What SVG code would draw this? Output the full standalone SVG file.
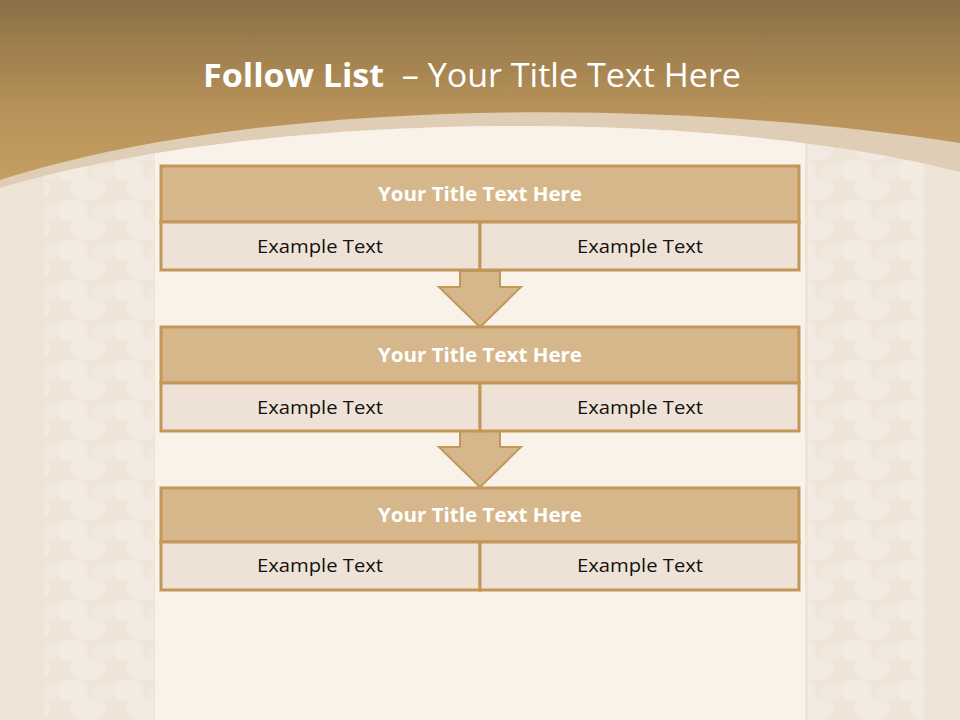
<svg xmlns="http://www.w3.org/2000/svg" width="960" height="720" viewBox="0 0 960 720">
  <defs>
    <linearGradient id="hdr" x1="0" y1="0" x2="0" y2="1" gradientUnits="objectBoundingBox">
      <stop offset="0" stop-color="#8A7047"/>
      <stop offset="0.55" stop-color="#B89259"/>
      <stop offset="1" stop-color="#C9A166"/>
    </linearGradient>
    <pattern id="lace" x="0" y="0" width="56" height="40" patternUnits="userSpaceOnUse">
      <ellipse cx="16" cy="10" rx="16" ry="11" fill="#F8F3EC" opacity="0.45"/>
      <ellipse cx="32" cy="29" rx="18" ry="12" fill="#F8F3EC" opacity="0.4"/>
      <ellipse cx="46" cy="12" rx="11" ry="9" fill="#F5EEE5" opacity="0.35"/>
    </pattern>
    <clipPath id="body">
      <path d="M0,188 C250,112 700,105 960,172 L960,720 L0,720 Z"/>
    </clipPath>
    <style>
      .title{fill:#D6B78B;stroke:#C3965A;stroke-width:3}
      .cell{fill:#EEE2D6;stroke:#C3965A;stroke-width:3}
      .arrow{fill:#D6B78B;stroke:#C3965A;stroke-width:2;stroke-linejoin:miter}
      .tt{font-family:"Open Sans","Noto Sans","Liberation Sans",sans-serif;font-weight:bold;font-size:19px;fill:#FFFFFF;text-anchor:middle}
      .ex{font-family:"Open Sans","Noto Sans","Liberation Sans",sans-serif;font-size:19px;fill:#111111;text-anchor:middle}
      .head{font-family:"Open Sans","Noto Sans","Liberation Sans",sans-serif;font-size:33px;fill:#FFFFFF}
    </style>
  </defs>

  <!-- background -->
  <rect x="0" y="0" width="960" height="720" fill="#ECE2D4"/>
  <rect x="0" y="0" width="960" height="200" fill="url(#hdr)"/>
  <path d="M0,180 C250,100 650,95 960,143 L960,720 L0,720 Z" fill="#DFCDB5"/>
  <g clip-path="url(#body)">
    <rect x="0" y="0" width="960" height="720" fill="#EEE5D8"/>
    <rect x="44" y="0" width="110" height="720" fill="url(#lace)"/>
    <rect x="808" y="0" width="116" height="720" fill="url(#lace)"/>
    <rect x="155" y="0" width="650" height="720" fill="#F9F2E9"/>
  </g>

  <text class="head" x="472" y="87" text-anchor="middle" textLength="538" lengthAdjust="spacingAndGlyphs" xml:space="preserve"><tspan font-weight="bold">Follow List</tspan>  – Your Title Text Here</text>

  <!-- connectors -->
  <g id="connectors">
    <polygon class="arrow" points="460,271 500,271 500,287 521,287 480,327 439,287 460,287"/>
    <polygon class="arrow" points="460,431 500,431 500,447 521,447 480,487 439,447 460,447"/>
  </g>

  <!-- node 1 -->
  <g id="node1">
    <rect class="title" x="161" y="166" width="638" height="56"/>
    <rect class="cell" x="161" y="222" width="319" height="48"/>
    <rect class="cell" x="480" y="222" width="319" height="48"/>
    <text class="tt" x="480" y="201" textLength="204" lengthAdjust="spacingAndGlyphs">Your Title Text Here</text>
    <text class="ex" x="320" y="253" textLength="126" lengthAdjust="spacingAndGlyphs">Example Text</text>
    <text class="ex" x="640" y="253" textLength="126" lengthAdjust="spacingAndGlyphs">Example Text</text>
  </g>

  <!-- node 2 -->
  <g id="node2">
    <rect class="title" x="161" y="327" width="638" height="56"/>
    <rect class="cell" x="161" y="383" width="319" height="48"/>
    <rect class="cell" x="480" y="383" width="319" height="48"/>
    <text class="tt" x="480" y="362" textLength="204" lengthAdjust="spacingAndGlyphs">Your Title Text Here</text>
    <text class="ex" x="320" y="414" textLength="126" lengthAdjust="spacingAndGlyphs">Example Text</text>
    <text class="ex" x="640" y="414" textLength="126" lengthAdjust="spacingAndGlyphs">Example Text</text>
  </g>

  <!-- node 3 -->
  <g id="node3">
    <rect class="title" x="161" y="488" width="638" height="54"/>
    <rect class="cell" x="161" y="542" width="319" height="48"/>
    <rect class="cell" x="480" y="542" width="319" height="48"/>
    <text class="tt" x="480" y="522" textLength="204" lengthAdjust="spacingAndGlyphs">Your Title Text Here</text>
    <text class="ex" x="320" y="572" textLength="126" lengthAdjust="spacingAndGlyphs">Example Text</text>
    <text class="ex" x="640" y="572" textLength="126" lengthAdjust="spacingAndGlyphs">Example Text</text>
  </g>
</svg>
